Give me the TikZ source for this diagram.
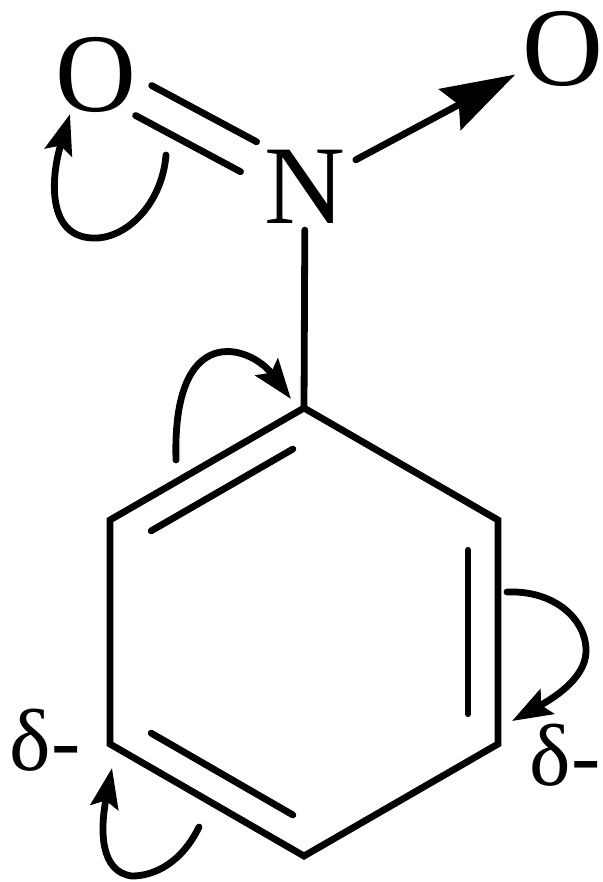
\documentclass[tikz,border=0pt]{standalone}
\usepackage{fontspec}
\setmainfont{Liberation Serif}
\usetikzlibrary{calc,arrows.meta}

\begin{document}
\begin{tikzpicture}[x=0.5pt,y=-0.5pt,
    bond/.style={line width=3.4pt,line cap=round},
    ring/.style={line width=3.4pt,line join=miter},
    curly/.style={line width=3.4pt,line cap=round,-{Stealth[length=20pt,width=14pt,inset=3.5pt]}},
    atom/.style={font=\fontsize{56}{60}\selectfont,inner sep=0pt},
    charge/.style={font=\fontsize{44}{48}\selectfont,inner sep=0pt}]
    \useasboundingbox (0,0) rectangle (602,882);
    % ring
    \coordinate (c1) at (304,408);
    \coordinate (c2) at (110,520);
    \coordinate (c3) at (110,744);
    \coordinate (c4) at (304,856);
    \coordinate (c5) at (498,744);
    \coordinate (c6) at (498,520);
    \draw[ring] (c1) -- (c2) -- (c3) -- (c4) -- (c5) -- (c6) -- cycle;
    \foreach \a/\b in {c1/c2,c3/c4,c5/c6}
        \draw[bond] ($(\a)!.135!(\b)!15pt!90:(\b)$) -- ($(\b)!.135!(\a)!15pt!-90:(\a)$);
    % nitro group
    \node[atom] (n) at (305,187) {N};
    \node[atom] (o1) at (96,75) {O};
    \node[atom] (o2) at (563,49) {O};
    \draw[bond] ($(n)!.195!(c1)$) -- (c1);
    \foreach \s in {90,-90}
        \draw[bond] ($(o1)!.228!(n)!8.5pt!\s:(n)$) -- ($(o1)!.73!(n)!8.5pt!\s:(n)$);
    \draw[bond,-{Stealth[length=37pt,width=23pt,inset=5pt]}] ($(n)!.197!(o2)$) -- ($(n)!.815!(o2)$);
    % charges
    \node[charge] (dl) at (45,740) {δ-};
    \node[charge] (dr) at (565,755) {δ-};
    % curly arrows
    \coordinate (s1) at (166,155);
    \coordinate (t1) at (70,114);
    \coordinate (s2) at (176,460);
    \coordinate (t2) at (291,399);
    \coordinate (s3) at (507,592);
    \coordinate (t3) at (512,721);
    \coordinate (s4) at (199,827);
    \coordinate (t4) at (112,768);
    \draw[curly] (s1) .. controls (162,205) and (125,240) .. (92,238) .. controls (48,236) and (50,180) .. (t1);
    \draw[curly] (s2) .. controls (172,320) and (250,345) .. (t2);
    \draw[curly] (s3) .. controls (555,590) and (587,620) .. (586,652) .. controls (585,680) and (550,700) .. (t3);
    \draw[curly] (s4) .. controls (182,862) and (155,876) .. (132,876) .. controls (100,872) and (100,830) .. (t4);
\end{tikzpicture}
\end{document}
